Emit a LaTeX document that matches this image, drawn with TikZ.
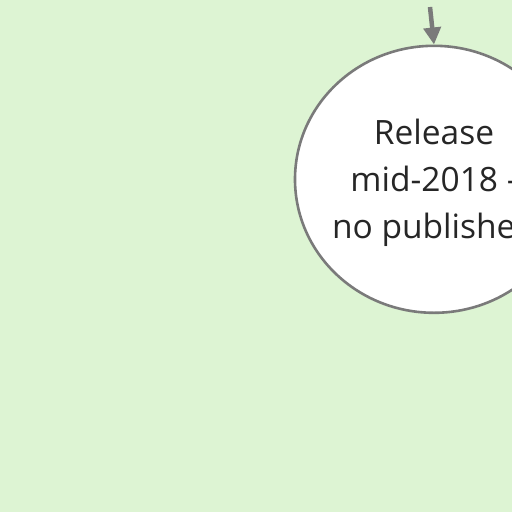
\documentclass[tikz,border=0pt]{standalone}
\usepackage{fontspec}
\setmainfont{Open Sans}
\usepackage{xcolor}
\usetikzlibrary{arrows.meta,positioning,shapes.geometric}
\definecolor{bggreen}{HTML}{DDF4D3}
\definecolor{linegray}{HTML}{7A7A7A}
\newcommand{\lowline}[1]{\raisebox{-3pt}[\height][\depth]{#1}}
\tikzset{
  milestone/.style={ellipse,draw=linegray,fill=white,line width=2.6pt,minimum width=278pt,minimum height=267pt,inner xsep=-20pt,inner ysep=0pt,align=center,font=\fontsize{33.5}{47}\selectfont,text=black!85},
  arrow/.style={-{Triangle[length=17pt,width=17pt]},line width=4.5pt,draw=linegray}
}
\begin{document}
\begin{tikzpicture}[x=1pt,y=-1pt]
    \useasboundingbox (0,0) rectangle (512,512);
    \clip (0,0) rectangle (512,512);
    \fill[bggreen] (0,0) rectangle (512,512);
    \node[milestone] (release) at (434,179.3) {\lowline{Release}\\\lowline{mid-2018 -}\\\lowline{no published}};
    \coordinate (prev) at (430,7);
    \draw[arrow] (prev) -- (release.north);
  \end{tikzpicture}
\end{document}
